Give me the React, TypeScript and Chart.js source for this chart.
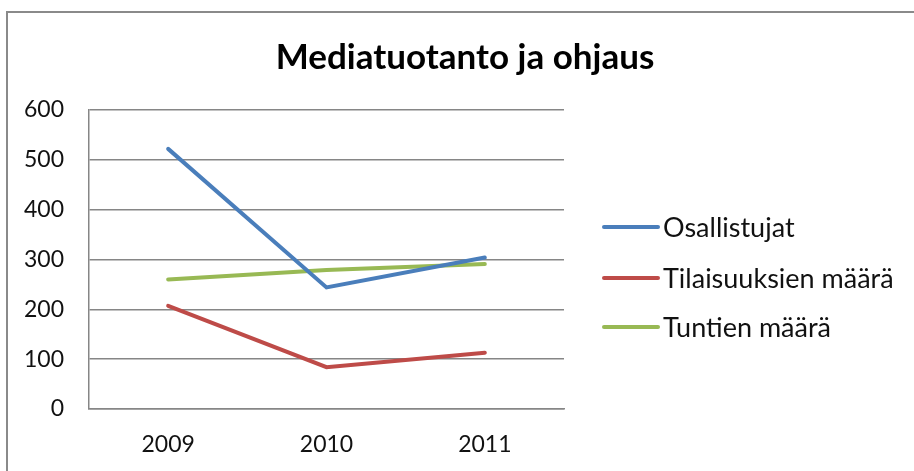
import React, { useEffect, useRef } from "react";
import { Chart, registerables } from "chart.js";

Chart.register(...registerables);

const categories = ["2009", "2010", "2011"];
const seriesNames = ["Osallistujat", "Tilaisuuksien määrä", "Tuntien määrä"];
const osallistujat = [522, 244, 304];
const tilaisuuksien = [207, 84, 113];
const tuntien = [260, 279, 291];
const seriesColors = ["#4A7EBB", "#BE4B48", "#98B954"];
const titleText = "Mediatuotanto ja ohjaus";

const FONT = "Lato, 'Open Sans', sans-serif";

const framePlugin = {
  id: "frame",
  beforeDraw(chart: any) {
    const ctx = chart.ctx;
    ctx.save();
    ctx.fillStyle = "#ffffff";
    ctx.fillRect(0, 0, chart.width, chart.height);
    ctx.strokeStyle = "#8a8a8a";
    ctx.lineWidth = 2;
    ctx.strokeRect(7, 12, 1200, 1200);
    ctx.restore();
  },
  afterDraw(chart: any) {
    const ctx = chart.ctx;
    ctx.save();
    // title
    ctx.fillStyle = "#000000";
    ctx.font = `bold 35px ${FONT}`;
    ctx.textAlign = "center";
    ctx.textBaseline = "middle";
    ctx.fillText(titleText, 465, 58);
    // legend
    ctx.font = `27px ${FONT}`;
    ctx.textAlign = "left";
    const ys = [227, 278, 327];
    chart.data.datasets.forEach((ds: any, i: number) => {
      const y = ys[i];
      ctx.strokeStyle = ds.borderColor;
      ctx.lineWidth = 4;
      ctx.lineCap = "round";
      ctx.beginPath();
      ctx.moveTo(604, y);
      ctx.lineTo(658, y);
      ctx.stroke();
      ctx.fillStyle = "#111111";
      ctx.fillText(ds.label, 663, y + 1);
    });
    ctx.restore();
  },
};

export default function App() {
  const ref = useRef<HTMLCanvasElement | null>(null);
  useEffect(() => {
    if (!ref.current) return;
    const values = [osallistujat, tilaisuuksien, tuntien];
    const tickFont = { family: FONT, size: 23 };
    const chart = new Chart(ref.current, {
      type: "line",
      data: {
        labels: categories,
        datasets: seriesNames.map((name, i) => ({
          label: name,
          data: values[i],
          borderColor: seriesColors[i],
          backgroundColor: seriesColors[i],
          borderWidth: 4,
          pointRadius: 0,
          tension: 0,
          borderCapStyle: "round" as const,
          borderJoinStyle: "miter" as const,
        })),
      },
      options: {
        animation: false,
        responsive: false,
        layout: { padding: { top: 110, right: 350, left: 0, bottom: 0 } },
        plugins: {
          legend: { display: false },
          title: { display: false },
          tooltip: { enabled: false },
        },
        scales: {
          x: {
            offset: true,
            grid: { display: false, drawTicks: false },
            border: { display: true, color: "#868686", width: 1.5 },
            ticks: {
              color: "#111111",
              font: tickFont,
              padding: 22,
              maxRotation: 0,
            },
            afterFit(scale: any) {
              scale.height = 62;
            },
          },
          y: {
            min: 0,
            max: 600,
            ticks: {
              stepSize: 100,
              color: "#111111",
              font: tickFont,
              padding: 25,
            },
            grid: { color: "#868686", lineWidth: 1.5, drawTicks: false },
            border: { display: true, color: "#868686", width: 1.5 },
            afterFit(scale: any) {
              scale.width = 89;
            },
          },
        },
      },
      plugins: [framePlugin],
    });
    return () => chart.destroy();
  }, []);
  return (
    <div style={{ position: "fixed", left: 0, top: 0, width: 914, height: 471 }}>
      <canvas ref={ref} width={914} height={471} style={{ width: 914, height: 471, display: "block" }} />
    </div>
  );
}
